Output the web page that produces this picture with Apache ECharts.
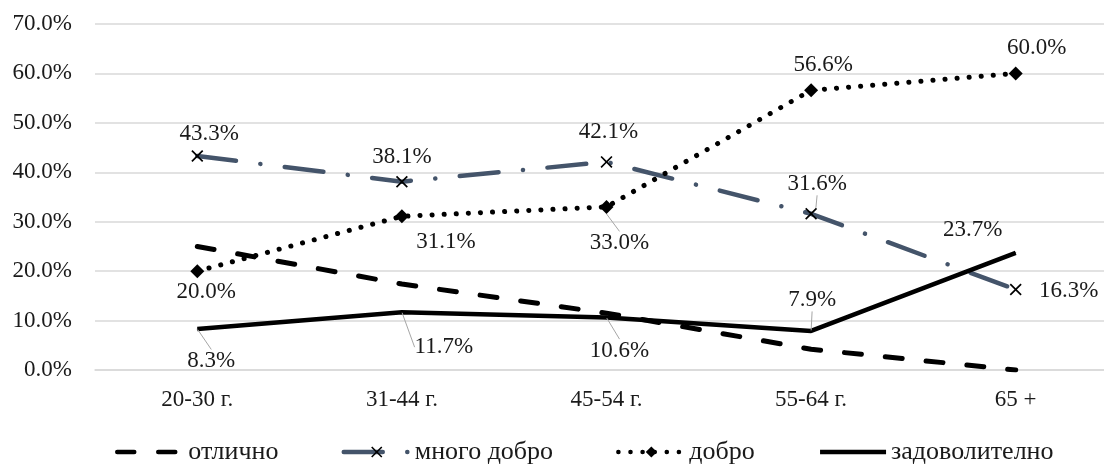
<!DOCTYPE html>
<html>
<head>
<meta charset="utf-8">
<script src="https://cdn.jsdelivr.net/npm/echarts@6/dist/echarts.min.js"></script>
<style>
html,body{margin:0;padding:0;background:#fff;overflow:hidden;width:1104px;height:467px;}
#chart{width:1118px;height:467px;}
</style>
</head>
<body>
<div id="chart"></div>
<script>
// ---- data ----
const categories = ['20-30 г.', '31-44 г.', '45-54 г.', '55-64 г.', '65 +'];
const seriesNames = ['отлично', 'много добро', 'добро', 'задоволително'];
const otlichno = [25.0, 17.4, 11.5, 4.2, 0.0];
const mnogoDobro = [43.3, 38.1, 42.1, 31.6, 16.3];
const dobro = [20.0, 31.1, 33.0, 56.6, 60.0];
const zadovolitelno = [8.3, 11.7, 10.6, 7.9, 23.7];
const yTicks = [0, 10, 20, 30, 40, 50, 60, 70];

// ---- label layout (pixel shifts from the point, and leader-line flags) ----
const shiftMnogo = [[12,-22],[0,-25],[2,-30],[6,-30],[53,2]];
const shiftDobro = [[9,21],[44,26],[13,36],[12,-25],[21,-25]];
const shiftZadov = [[14,32],[42,35],[13,33],[1,-31],[-43,-23]];
const leaderMnogo = [false,false,false,true,false];
const leaderDobro = [false,false,true,false,false];
const leaderZadov = [true,true,true,true,false];

const FONT = "'Times New Roman','Liberation Serif',serif";
const TXT = '#1a1a1a';
const X_PATH = 'path://M10,0L50,40L90,0L100,10L60,50L100,90L90,100L50,60L10,100L0,90L40,50L0,10Z';

function items(vals, leaders) {
  return vals.map((v, i) => ({
    value: v,
    labelLine: { show: leaders[i] }
  }));
}
function layoutFn(shifts) {
  return function (p) {
    const s = shifts[p.dataIndex];
    return { dx: s[0], dy: s[1] };
  };
}
const labelBase = {
  show: true,
  position: 'inside',
  fontFamily: FONT,
  fontSize: 23,
  color: TXT,
  formatter: p => p.value.toFixed(1) + '%'
};
const leaderStyle = { show: false, lineStyle: { color: '#a6a6a6', width: 1 }, length2: 0 };

const chart = echarts.init(document.getElementById('chart'), null, { renderer: 'canvas' });
chart.setOption({
  animation: false,
  backgroundColor: '#fff',
  grid: { left: 95, right: 0, top: 24, bottom: 97, containLabel: false },
  legend: {
    bottom: 2,
    left: 115,
    padding: 0,
    itemWidth: 66,
    itemHeight: 14,
    itemGap: 63,
    lineStyle: { width: 4.5 },
    textStyle: { fontFamily: FONT, fontSize: 26, color: TXT },
    data: [
      { name: seriesNames[0], itemStyle: { opacity: 0 } },
      { name: seriesNames[1] },
      { name: seriesNames[2] },
      { name: seriesNames[3], itemStyle: { opacity: 0 } }
    ]
  },
  xAxis: {
    type: 'category',
    data: categories,
    boundaryGap: true,
    axisLine: { lineStyle: { color: '#d9d9d9', width: 1.5 } },
    axisTick: { show: false },
    axisLabel: { fontFamily: FONT, fontSize: 23, color: TXT, margin: 18 }
  },
  yAxis: {
    type: 'value',
    min: yTicks[0],
    max: yTicks[yTicks.length - 1],
    interval: 10,
    axisLine: { show: false },
    axisTick: { show: false },
    splitLine: { lineStyle: { color: '#d9d9d9', width: 1.5 } },
    axisLabel: { fontFamily: FONT, fontSize: 23, color: TXT, margin: 23,
      formatter: v => v.toFixed(1) + '%' }
  },
  series: [
    {
      name: seriesNames[0], type: 'line', data: otlichno,
      symbol: 'circle', symbolSize: 1,
      itemStyle: { color: '#000' },
      lineStyle: { color: '#000', width: 5, type: [17, 24], cap: 'round' },
      z: 2
    },
    {
      name: seriesNames[1], type: 'line', data: items(mnogoDobro, leaderMnogo),
      symbol: X_PATH, symbolSize: 12,
      itemStyle: { color: '#000' },
      lineStyle: { color: '#44546a', width: 4.5, type: [39, 24.5, 0.1, 24.5], cap: 'round' },
      label: labelBase,
      labelLine: leaderStyle,
      labelLayout: layoutFn(shiftMnogo),
      z: 3
    },
    {
      name: seriesNames[2], type: 'line', data: items(dobro, leaderDobro),
      symbol: 'diamond', symbolSize: 14,
      itemStyle: { color: '#000' },
      lineStyle: { color: '#000', width: 5, type: [0.1, 12], cap: 'round' },
      label: labelBase,
      labelLine: leaderStyle,
      labelLayout: layoutFn(shiftDobro),
      z: 4
    },
    {
      name: seriesNames[3], type: 'line', data: items(zadovolitelno, leaderZadov),
      symbol: 'circle', symbolSize: 1,
      itemStyle: { color: '#000' },
      lineStyle: { color: '#000', width: 4.5, type: 'solid' },
      label: labelBase,
      labelLine: leaderStyle,
      labelLayout: layoutFn(shiftZadov),
      z: 5
    }
  ]
});
</script>
</body>
</html>
